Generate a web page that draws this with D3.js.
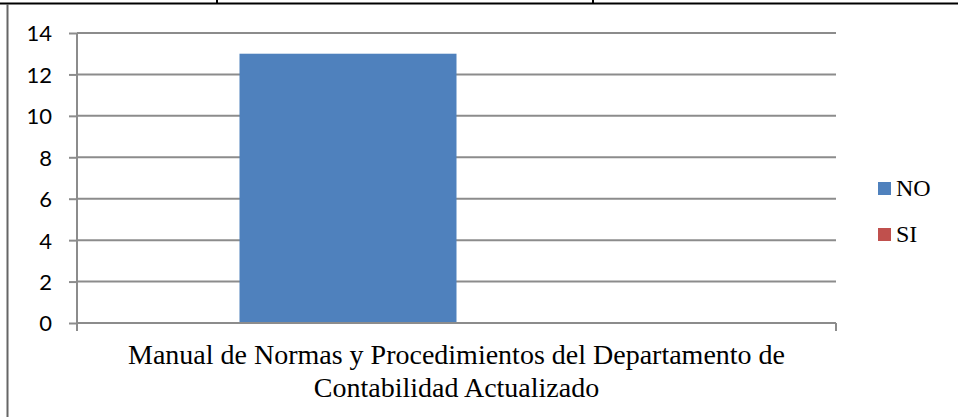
<html>
<head>
<meta charset="utf-8">
<style>
  body { margin: 0; background: white; }
  svg { display: block; }
  .ytick text { font-family: Lato, "Open Sans", sans-serif; font-size: 22px; fill: #000; }
  .serif { font-family: "Liberation Serif", "Times New Roman", serif; fill: #000; }
</style>
</head>
<body>
<svg id="chart"></svg>
<script src="https://d3js.org/d3.v7.min.js"></script>
<script>
  // chart data
  let categories = ["Manual de Normas y Procedimientos del Departamento de Contabilidad Actualizado"]
  let categoryLines = ["Manual de Normas y Procedimientos del Departamento de", "Contabilidad Actualizado"]
  let seriesNames = ["NO", "SI"]
  let seriesValues = [13, 0]
  let seriesColors = ["#4f81bd", "#c0504d"]
  let yTicks = [0, 2, 4, 6, 8, 10, 12, 14]

  let width = 958, height = 417
  let margin = { left: 77, right: 958 - 836, top: 33, bottom: 417 - 323 }

  let svg = d3.select('#chart')
    .attr('width', width)
    .attr('height', height)

  // table frame around the chart (from the document)
  svg.append('line')
    .attr('x1', 0).attr('x2', width).attr('y1', 3.5).attr('y2', 3.5)
    .attr('stroke', '#000').attr('stroke-width', 2)
  ;[217, 593].forEach(x => {
    svg.append('line')
      .attr('x1', x).attr('x2', x).attr('y1', 0).attr('y2', 4)
      .attr('stroke', '#000').attr('stroke-width', 2)
  })
  svg.append('line')
    .attr('x1', 7.5).attr('x2', 7.5).attr('y1', 4).attr('y2', height)
    .attr('stroke', '#666').attr('stroke-width', 2)

  let xScale = d3.scaleBand()
    .domain(categories)
    .range([margin.left, width - margin.right])
    .paddingInner(0)
    .paddingOuter(0.3744)

  let seriesScale = d3.scaleBand()
    .domain(seriesNames)
    .range([0, xScale.bandwidth()])
    .padding(0)

  let yScale = d3.scaleLinear()
    .domain([0, 14])
    .range([height - margin.bottom, margin.top])

  // gridlines
  svg.append('g')
    .selectAll('line')
    .data(yTicks.filter(d => d > 0))
    .enter().append('line')
    .attr('x1', margin.left)
    .attr('x2', width - margin.right)
    .attr('y1', d => yScale(d))
    .attr('y2', d => yScale(d))
    .attr('stroke', '#8c8c8c')
    .attr('stroke-width', 2)

  // bars
  let groups = svg.append('g')
    .selectAll('g')
    .data(categories)
    .enter().append('g')
    .attr('transform', d => `translate(${xScale(d)},0)`)

  groups.selectAll('rect')
    .data(seriesNames.map((s, i) => ({ name: s, value: seriesValues[i], color: seriesColors[i] })))
    .enter().append('rect')
    .attr('x', d => seriesScale(d.name))
    .attr('width', seriesScale.bandwidth())
    .attr('y', d => yScale(d.value))
    .attr('height', d => yScale(0) - yScale(d.value))
    .attr('fill', d => d.color)

  // y axis
  let axisY = d3.axisLeft(yScale)
    .tickValues(yTicks)
    .tickSize(8)
    .tickPadding(17)
  let gy = svg.append('g')
    .attr('class', 'ytick')
    .attr('transform', `translate(${margin.left},0)`)
    .call(axisY)
  gy.select('.domain').remove()
  gy.selectAll('line').attr('stroke', '#8c8c8c').attr('stroke-width', 2)
  gy.selectAll('text').attr('dy', '0.36em')
  gy.append('line')
    .attr('x1', 0).attr('x2', 0)
    .attr('y1', yScale(14)).attr('y2', yScale(0) + 8)
    .attr('stroke', '#8c8c8c').attr('stroke-width', 2)

  // x axis
  let gx = svg.append('g')
  gx.append('line')
    .attr('x1', margin.left).attr('x2', width - margin.right)
    .attr('y1', yScale(0)).attr('y2', yScale(0))
    .attr('stroke', '#8c8c8c').attr('stroke-width', 2)
  gx.append('line')
    .attr('x1', width - margin.right).attr('x2', width - margin.right)
    .attr('y1', yScale(0)).attr('y2', yScale(0) + 8)
    .attr('stroke', '#8c8c8c').attr('stroke-width', 2)

  let cx = xScale(categories[0]) + xScale.bandwidth() / 2
  gx.selectAll('text')
    .data(categoryLines)
    .enter().append('text')
    .attr('class', 'serif')
    .attr('x', cx)
    .attr('y', (d, i) => 364 + i * 33)
    .attr('text-anchor', 'middle')
    .style('font-size', '28px')
    .text(d => d)

  // legend
  let legend = svg.append('g')
    .selectAll('g')
    .data(seriesNames)
    .enter().append('g')
    .attr('transform', (d, i) => `translate(878,${182 + i * 46})`)
  legend.append('rect')
    .attr('width', 13).attr('height', 13)
    .attr('fill', (d, i) => seriesColors[i])
  legend.append('text')
    .attr('class', 'serif')
    .attr('x', 18)
    .attr('y', 14)
    .style('font-size', '24px')
    .text(d => d)
</script>
</body>
</html>
